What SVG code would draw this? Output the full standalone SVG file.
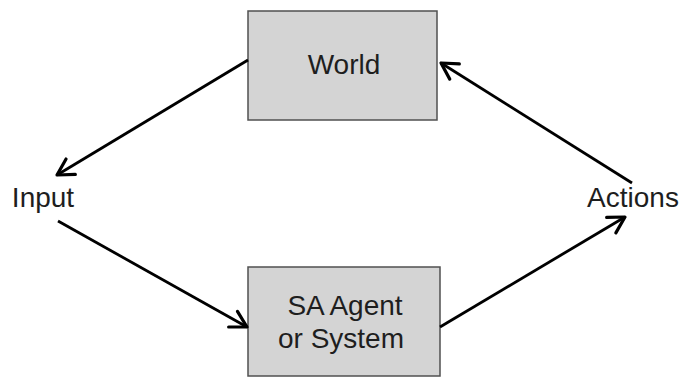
<svg xmlns="http://www.w3.org/2000/svg" width="680" height="377" viewBox="0 0 680 377">
  <style>
    .box { fill: #d4d4d4; stroke: #505050; stroke-width: 1.5; }
    .label { font-family: "Liberation Sans", Arial, sans-serif; font-size: 28px; fill: #1e1e1e; text-anchor: middle; }
    .conn { stroke: #000; stroke-width: 2.8; fill: none; marker-end: url(#arrow); }
  </style>
  <defs>
    <marker id="arrow" markerUnits="userSpaceOnUse" viewBox="-20 -12 24 24" refX="0" refY="0" markerWidth="24" markerHeight="24" orient="auto" overflow="visible">
      <path d="M -16,-9 L 0,0 L -16,9" fill="none" stroke="#000" stroke-width="3.2" stroke-linecap="round" stroke-linejoin="round"/>
    </marker>
  </defs>
  <rect width="680" height="377" fill="#ffffff"/>
  <g id="world">
    <rect class="box" x="248" y="11" width="189" height="109"/>
    <text class="label" x="344" y="74">World</text>
  </g>
  <g id="agent">
    <rect class="box" x="248" y="267" width="192" height="109"/>
    <text class="label" x="345" y="315">SA Agent</text>
    <text class="label" x="341" y="348">or System</text>
  </g>
  <g id="input">
    <text class="label" x="43" y="207">Input</text>
  </g>
  <g id="actions">
    <text class="label" x="633" y="207">Actions</text>
  </g>
  <g id="connectors">
    <line class="conn" x1="248" y1="60" x2="57" y2="175"/>
    <line class="conn" x1="58" y1="221" x2="247" y2="327"/>
    <line class="conn" x1="440" y1="327" x2="625" y2="217"/>
    <line class="conn" x1="632" y1="183" x2="441" y2="63"/>
  </g>
</svg>
